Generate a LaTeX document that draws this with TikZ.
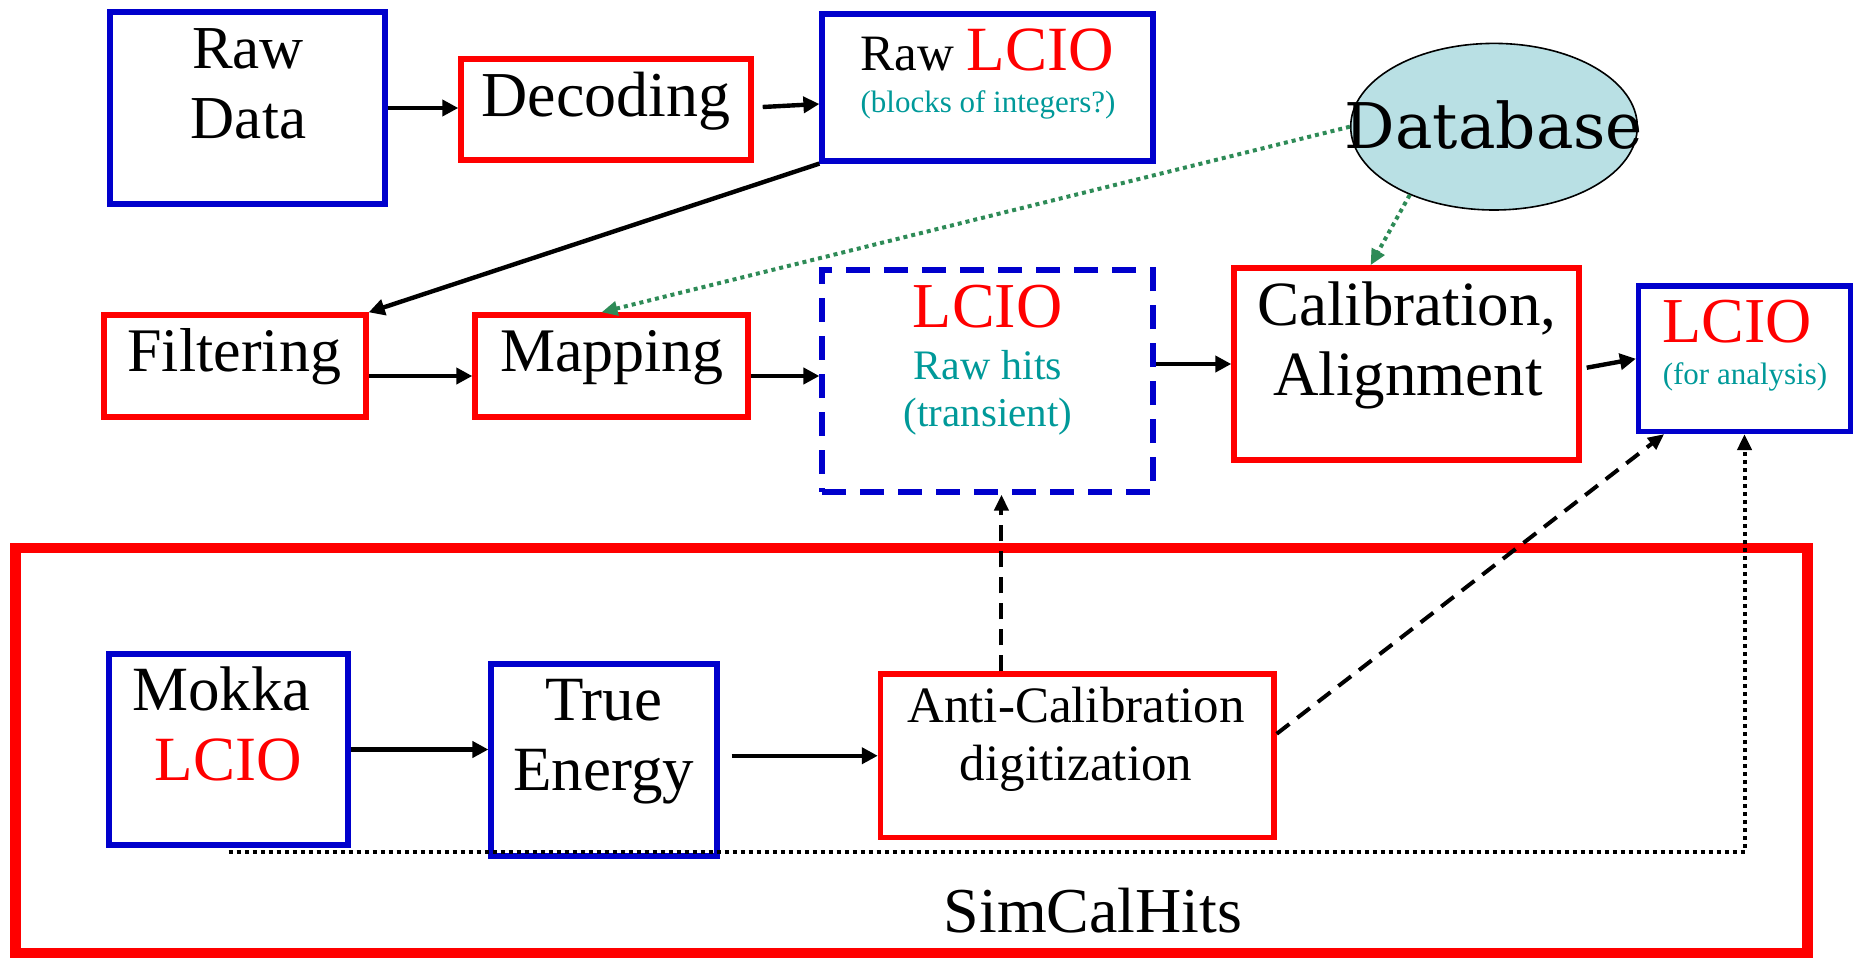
\documentclass[tikz,border=0pt]{standalone}
\usepackage{fontspec}
\setmainfont{Liberation Serif}
\newfontfamily\dbfont{DejaVu Serif}
\usetikzlibrary{arrows.meta,calc,fit,shapes.geometric}
\definecolor{myblue}{RGB}{0,0,204}
\definecolor{myred}{RGB}{255,0,0}
\definecolor{myteal}{RGB}{0,153,153}
\definecolor{mygreen}{RGB}{46,139,87}
\definecolor{dbfill}{RGB}{185,224,228}
\newcommand\fsz[1]{\fontsize{#1}{#1}\selectfont}
\begin{document}
\begin{tikzpicture}[x=0.5pt,y=-0.5pt,
  bbox/.style={draw=myblue, line width=2.6pt, inner sep=0pt},
  rbox/.style={draw=myred, line width=2.7pt, inner sep=0pt},
  dbox/.style={draw=myblue, line width=2.6pt, inner sep=0pt, dash pattern=on 12pt off 7pt},
  arr/.style={line width=2.2pt, -{Triangle[length=8pt,width=8pt]}},
  gdot/.style={draw=mygreen, line width=2pt, dash pattern=on 2pt off 2pt, -{Triangle[length=8pt,width=7pt]}},
  kdash/.style={line width=2pt, dash pattern=on 8pt off 5pt, -{Triangle[length=8pt,width=7pt]}},
  kdot/.style={line width=2pt, dash pattern=on 2pt off 2pt, -{Triangle[length=8pt,width=7pt]}},
  txt/.style={anchor=base, inner sep=0pt}]
\useasboundingbox (0,0) rectangle (1854,958);

% big SimCalHits frame
\node[draw=myred, line width=5.3pt, inner sep=0pt, fit={(15.7,548) (1807.6,953)}] (sim) {};

% boxes
\node[bbox, fit={(110,12) (385,204)}] (rawdata) {};
\node[rbox, fit={(461,59) (751,160)}] (decoding) {};
\node[bbox, fit={(822,14) (1153,161)}] (rawlcio) {};
\node[ellipse, draw=black, line width=0.8pt, fill=dbfill, inner sep=0pt,
      minimum width=143.3pt, minimum height=83.3pt] (db) at (1494,126.7) {};
\node[rbox, fit={(104,315) (366,417)}] (filtering) {};
\node[rbox, fit={(475,315) (748,417)}] (mapping) {};
\node[dbox, fit={(822,270) (1153,492)}] (lciot) {};
\node[rbox, fit={(1234,268) (1579,460)}] (calib) {};
\node[bbox, fit={(1638.5,286) (1850.5,431.5)}] (lcioa) {};
\node[bbox, fit={(109,654) (348,845)}] (mokka) {};
\node[bbox, fit={(491,664) (717,856)}] (te) {};
\node[rbox, fit={(880.5,674) (1274,837.5)}] (anti) {};

% texts
\node[txt, font=\fsz{30.5}] (trd1) at (248,68.3) {Raw};
\node[txt, font=\fsz{30.5}] (trd2) at (248.5,138.3) {Data};
\node[txt, font=\fsz{32}] (tdec) at (606,116.7) {Decoding};
\node[txt] (trl1) at (987,70) {{\fsz{25.5}Raw }{\fsz{31.5}\color{myred}LCIO}};
\node[txt, font=\fsz{15.5}, text=myteal] (trl2) at (988,112.6) {(blocks of integers?)};
\node[txt, font=\dbfont\fsz{31.5}] (tdb) at (1494,148) {Database};
\node[txt, font=\fsz{31}] (tfil) at (234.3,371.7) {Filtering};
\node[txt, font=\fsz{31}] (tmap) at (612,371.7) {Mapping};
\node[txt, font=\fsz{32}, text=myred] (tlt1) at (987.6,327.3) {LCIO};
\node[txt, font=\fsz{21}, text=myteal] (tlt2) at (988,379.3) {Raw hits};
\node[txt, font=\fsz{20.5}, text=myteal] (tlt3) at (988,426) {(transient)};
\node[txt, font=\fsz{31.5}] (tcal1) at (1407,325) {Calibration,};
\node[txt, font=\fsz{31.5}] (tcal2) at (1408,395) {Alignment};
\node[txt, font=\fsz{32}, text=myred] (tla1) at (1737,342.7) {LCIO};
\node[txt, font=\fsz{15.5}, text=myteal] (tla2) at (1745,384.5) {(for analysis)};
\node[txt, font=\fsz{31.5}] (tmk1) at (221.5,710) {Mokka};
\node[txt, font=\fsz{31.5}, text=myred] (tmk2) at (228,780) {LCIO};
\node[txt, font=\fsz{31.5}] (tte1) at (603.8,720) {True};
\node[txt, font=\fsz{31.5}] (tte2) at (603.6,790) {Energy};
\node[txt, font=\fsz{25.5}] (tac1) at (1076,722) {Anti-Calibration};
\node[txt, font=\fsz{25.5}] (tac2) at (1076,780.8) {digitization};
\node[txt, font=\fsz{32}] (tsim) at (1093,932.7) {SimCalHits};

% connectors
\draw[arr] (rawdata.east) -- (rawdata.east -| decoding.west);
\draw[arr] ($(decoding.east)+(9,-2.5)$) -- ($(rawlcio.west)+(0,16.5)$);
\draw[arr] (rawlcio.south west) -- (filtering.north east);
\coordinate (f1) at ($(filtering.east)+(0,10)$);
\draw[arr] (f1) -- (f1 -| mapping.west);
\coordinate (m1) at ($(mapping.east)+(0,10)$);
\draw[arr] (m1) -- (m1 -| lciot.west);
\draw[arr] (lciot.east |- calib.west) -- (calib.west);
\draw[arr] ($(calib.east)+(5,3.7)$) -- (lcioa.west);
\draw[gdot] (db.west) -- ($(mapping.north)+(-10,0)$);
\draw[gdot] (db.219) -- ($(calib.north)+(-36,0)$);
\draw[arr] (mokka.east) -- (mokka.east -| te.west);
\draw[arr] ($(te.east |- anti.west)+(12,0)$) -- (anti.west);
\coordinate (a1) at ($(anti.north west)!0.31!(anti.north east)$);
\draw[kdash] (a1) -- (a1 |- lciot.south);
\draw[kdash] ($(anti.north east)!0.37!(anti.south east)$) -- ($(lcioa.south west)!0.13!(lcioa.south east)$);
\draw[kdot] ($(mokka.south)+(0,4)$) -| (lcioa.south);
\end{tikzpicture}
\end{document}
